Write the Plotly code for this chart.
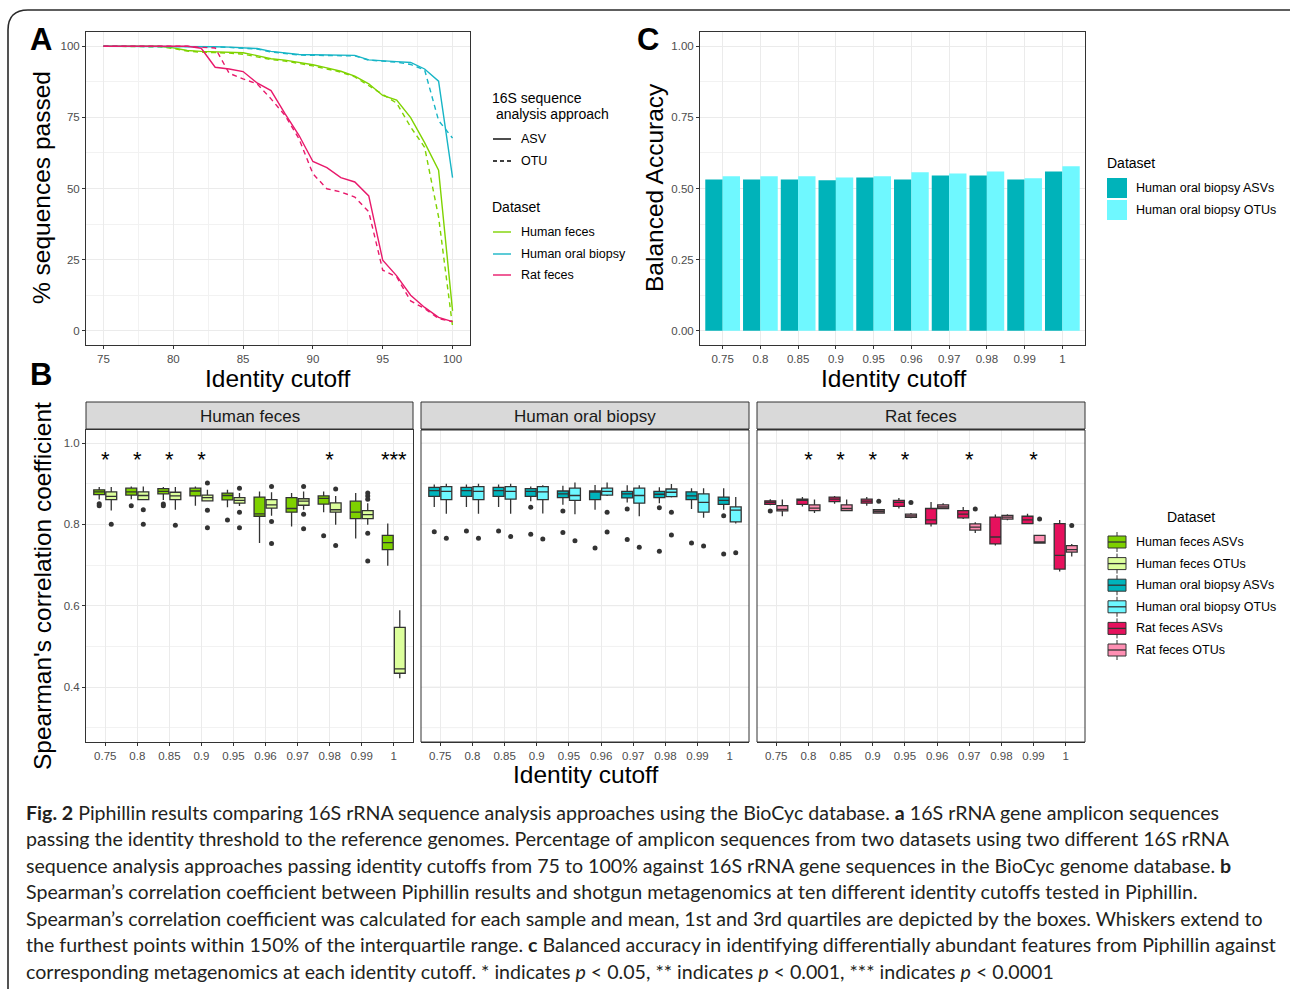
import plotly.graph_objects as go

W, H = 1290, 989


def X(p):
    return p / W


def Y(p):
    return 1 - p / H


# ---------------- Panel A data ----------------
identity_pct = list(range(75, 101))
feces_asv_pct = [100, 100, 100, 100, 100, 99.4, 98.5, 98.2, 98.1, 98.0, 97.7, 96.7, 95.6,
                 95.1, 94.4, 93.5, 92.4, 91.2, 89.5, 86.8, 82.7, 81.1, 74.9, 66.1, 56.4, 7.0]
feces_otu_pct = [100, 100, 100, 100, 99.8, 99.2, 98.3, 97.9, 97.8, 97.6, 97.2, 96.3, 95.3,
                 94.8, 94.0, 93.1, 92.0, 90.9, 89.2, 86.2, 83.2, 80.0, 71.6, 64.5, 40.0, 1.6]
oral_asv_pct = [100, 100, 100, 100, 100, 100, 100, 99.9, 99.8, 99.7, 99.5, 99.2, 98.2,
                97.6, 97.1, 97.0, 96.9, 96.8, 96.8, 95.2, 94.8, 94.6, 94.3, 92.0, 87.7, 53.8]
oral_otu_pct = [100, 100, 100, 100, 100, 100, 100, 99.9, 99.8, 99.6, 99.4, 99.0, 98.0,
                97.4, 96.9, 96.8, 96.7, 96.6, 96.6, 95.1, 94.7, 94.4, 93.6, 91.7, 73.9, 67.7]
rat_asv_pct = [100, 100, 100, 100, 100, 100, 100, 99.3, 92.6, 92.0, 91.1, 87.1, 84.4,
               76.3, 68.7, 59.5, 57.3, 53.8, 52.3, 47.4, 24.8, 19.3, 12.5, 8.2, 4.7, 3.2]
rat_otu_pct = [100, 100, 100, 100, 100, 100, 100, 99.6, 99.4, 90.5, 88.5, 86.8, 81.5,
               75.7, 67.5, 55.2, 49.9, 48.8, 47.0, 41.8, 21.3, 18.9, 10.5, 7.8, 4.3, 3.2]

# ---------------- Panel C data ----------------
cutoff_labels = ["0.75", "0.8", "0.85", "0.9", "0.95", "0.96", "0.97", "0.98", "0.99", "1"]
bal_acc_asv = [0.532, 0.532, 0.532, 0.529, 0.539, 0.532, 0.546, 0.546, 0.532, 0.560]
bal_acc_otu = [0.543, 0.543, 0.543, 0.539, 0.543, 0.557, 0.553, 0.560, 0.536, 0.578]

# ---------------- Panel B data: (lower whisker, q1, median, q3, upper whisker) ----------------
feces_asv_stats = [(0.861, 0.873, 0.880, 0.885, 0.892), (0.862, 0.872, 0.880, 0.889, 0.893),
                   (0.860, 0.875, 0.881, 0.888, 0.892), (0.846, 0.870, 0.882, 0.889, 0.893),
                   (0.842, 0.860, 0.871, 0.877, 0.885), (0.754, 0.820, 0.826, 0.867, 0.881),
                   (0.795, 0.830, 0.839, 0.866, 0.877), (0.830, 0.850, 0.864, 0.870, 0.881),
                   (0.765, 0.814, 0.830, 0.857, 0.877), (0.698, 0.738, 0.755, 0.773, 0.802)]
feces_asv_out = [[0.851, 0.846], [0.846], [0.850, 0.846], [], [0.811], [], [], [0.772], [], []]
feces_otu_stats = [(0.834, 0.861, 0.869, 0.880, 0.892), (0.859, 0.861, 0.871, 0.880, 0.893),
                   (0.836, 0.861, 0.870, 0.879, 0.892), (0.856, 0.858, 0.866, 0.872, 0.885),
                   (0.845, 0.852, 0.859, 0.866, 0.877), (0.821, 0.840, 0.848, 0.861, 0.879),
                   (0.836, 0.847, 0.857, 0.863, 0.881), (0.799, 0.830, 0.836, 0.853, 0.870),
                   (0.799, 0.814, 0.824, 0.834, 0.852), (0.422, 0.434, 0.445, 0.547, 0.589)]
feces_otu_out = [[0.800], [0.836, 0.800], [0.798], [0.902, 0.835, 0.792], [0.889, 0.830, 0.792],
                 [0.893, 0.807, 0.753], [0.893, 0.825, 0.789], [0.887, 0.748],
                 [0.877, 0.870, 0.862, 0.778, 0.710], []]
oral_asv_stats = [(0.843, 0.869, 0.883, 0.891, 0.898), (0.843, 0.869, 0.883, 0.891, 0.898),
                  (0.843, 0.869, 0.883, 0.891, 0.898), (0.857, 0.869, 0.881, 0.888, 0.893),
                  (0.848, 0.866, 0.875, 0.882, 0.895), (0.836, 0.861, 0.880, 0.882, 0.897),
                  (0.854, 0.865, 0.875, 0.881, 0.896), (0.852, 0.866, 0.874, 0.881, 0.891),
                  (0.838, 0.861, 0.870, 0.880, 0.889), (0.836, 0.849, 0.859, 0.867, 0.889)]
oral_asv_out = [[0.782], [0.784], [0.784], [0.842, 0.776], [0.833, 0.780], [0.742],
                [0.838, 0.763], [0.841, 0.734], [0.754], [0.821, 0.727]]
oral_otu_stats = [(0.826, 0.861, 0.881, 0.893, 0.900), (0.826, 0.861, 0.881, 0.893, 0.900),
                  (0.826, 0.862, 0.881, 0.893, 0.900), (0.827, 0.861, 0.880, 0.893, 0.896),
                  (0.825, 0.859, 0.871, 0.889, 0.903), (0.870, 0.872, 0.881, 0.889, 0.903),
                  (0.820, 0.852, 0.871, 0.889, 0.896), (0.866, 0.868, 0.879, 0.887, 0.899),
                  (0.816, 0.830, 0.854, 0.875, 0.889), (0.802, 0.806, 0.835, 0.843, 0.867)]
oral_otu_out = [[0.766], [0.766], [0.770], [0.764], [0.760], [0.830, 0.781], [0.744],
                [0.830, 0.774], [0.747], [0.730]]
rat_asv_stats = [(0.847, 0.849, 0.854, 0.858, 0.862), (0.844, 0.849, 0.859, 0.862, 0.867),
                 (0.851, 0.856, 0.862, 0.867, 0.870), (0.846, 0.852, 0.857, 0.862, 0.867),
                 (0.839, 0.844, 0.854, 0.859, 0.865), (0.795, 0.801, 0.811, 0.839, 0.855),
                 (0.813, 0.816, 0.825, 0.834, 0.843), (0.748, 0.752, 0.769, 0.818, 0.824),
                 (0.800, 0.802, 0.811, 0.820, 0.826), (0.684, 0.690, 0.724, 0.802, 0.811)]
rat_asv_out = [[0.833], [], [], [], [], [], [], [], [], []]
rat_otu_stats = [(0.820, 0.833, 0.837, 0.846, 0.861), (0.828, 0.834, 0.840, 0.848, 0.861),
                 (0.832, 0.834, 0.839, 0.848, 0.861), (0.827, 0.828, 0.832, 0.836, 0.837),
                 (0.815, 0.817, 0.821, 0.825, 0.828), (0.839, 0.839, 0.843, 0.848, 0.852),
                 (0.779, 0.786, 0.793, 0.801, 0.805), (0.810, 0.813, 0.818, 0.822, 0.825),
                 (0.754, 0.754, 0.757, 0.773, 0.773), (0.721, 0.732, 0.738, 0.748, 0.752)]
rat_otu_out = [[], [], [], [0.857], [0.854], [], [0.838], [], [0.813], [0.797]]

feces_sig = ["*", "*", "*", "*", "", "", "", "*", "", "***"]
oral_sig = ["", "", "", "", "", "", "", "", "", ""]
rat_sig = ["", "*", "*", "*", "*", "", "*", "", "*", ""]
sig_y = 0.955

facet_names = ["Human feces", "Human oral biopsy", "Rat feces"]

# ---------------- styles ----------------
FONT = "Liberation Sans, Arial, Helvetica, sans-serif"
C_FECES, C_ORAL, C_RAT = "#7FD300", "#17B5C6", "#E8196B"
BOX_COLORS = {
    "Human feces ASVs": "#7ED100", "Human feces OTUs": "#DCFF9C",
    "Human oral biopsy ASVs": "#00B4BC", "Human oral biopsy OTUs": "#6DF7FF",
    "Rat feces ASVs": "#E6115D", "Rat feces OTUs": "#FF8FB3",
}
BAR_ASV, BAR_OTU = "#00B3BA", "#6FF8FF"
GRID, MINOR = "#EBEBEB", "#F2F2F2"
TICKFONT = dict(family=FONT, size=11.5, color="#4D4D4D")

fig = go.Figure()

# ---------- Panel A lines ----------
for ys, col, dash in [(feces_asv_pct, C_FECES, "solid"), (feces_otu_pct, C_FECES, "dash"),
                      (oral_asv_pct, C_ORAL, "solid"), (oral_otu_pct, C_ORAL, "dash"),
                      (rat_asv_pct, C_RAT, "solid"), (rat_otu_pct, C_RAT, "dash")]:
    fig.add_trace(go.Scatter(x=identity_pct, y=ys, mode="lines",
                             line=dict(color=col, width=1.4, dash="5px,4px" if dash == "dash" else "solid"),
                             xaxis="x", yaxis="y", showlegend=False, hoverinfo="skip"))

# ---------- Panel C bars ----------
fig.add_trace(go.Bar(x=cutoff_labels, y=bal_acc_asv, marker=dict(color=BAR_ASV, line=dict(width=0)),
                     xaxis="x2", yaxis="y2", showlegend=False, offsetgroup="a"))
fig.add_trace(go.Bar(x=cutoff_labels, y=bal_acc_otu, marker=dict(color=BAR_OTU, line=dict(width=0)),
                     xaxis="x2", yaxis="y2", showlegend=False, offsetgroup="b"))

# ---------- Panel B boxes ----------
dodge = 0.1875
facets = [
    ("x3", "y3", feces_asv_stats, feces_asv_out, feces_otu_stats, feces_otu_out,
     "Human feces ASVs", "Human feces OTUs", feces_sig),
    ("x4", "y3", oral_asv_stats, oral_asv_out, oral_otu_stats, oral_otu_out,
     "Human oral biopsy ASVs", "Human oral biopsy OTUs", oral_sig),
    ("x5", "y3", rat_asv_stats, rat_asv_out, rat_otu_stats, rat_otu_out,
     "Rat feces ASVs", "Rat feces OTUs", rat_sig),
]
pos = list(range(1, len(cutoff_labels) + 1))
for xa, ya, s_asv, o_asv, s_otu, o_otu, n_asv, n_otu, sig in facets:
    for stats, outs, name, off in [(s_asv, o_asv, n_asv, -dodge), (s_otu, o_otu, n_otu, dodge)]:
        xp = [p + off for p in pos]
        fig.add_trace(go.Box(
            x=xp, lowerfence=[s[0] for s in stats], q1=[s[1] for s in stats],
            median=[s[2] for s in stats], q3=[s[3] for s in stats],
            upperfence=[s[4] for s in stats], width=0.34, whiskerwidth=0,
            fillcolor=BOX_COLORS[name], line=dict(color="#333333", width=1.3),
            boxpoints=False, xaxis=xa, yaxis=ya, showlegend=False, hoverinfo="skip"))
        ox, oy = [], []
        for p, vals in zip(xp, outs):
            for v in vals:
                ox.append(p)
                oy.append(v)
        if ox:
            fig.add_trace(go.Scatter(x=ox, y=oy, mode="markers",
                                     marker=dict(color="#333333", size=5),
                                     xaxis=xa, yaxis=ya, showlegend=False, hoverinfo="skip"))
    fig.add_trace(go.Scatter(x=pos, y=[sig_y] * len(pos), mode="text", text=sig,
                             textfont=dict(family=FONT, size=22, color="black"),
                             textposition="middle center",
                             xaxis=xa, yaxis=ya, showlegend=False, hoverinfo="skip"))


def frame_axis(domain, **kw):
    d = dict(domain=domain, showline=True, linecolor="#333333", linewidth=1, mirror=True,
             ticks="outside", ticklen=3, tickcolor="#333333", tickwidth=1,
             tickfont=TICKFONT, showgrid=True, gridcolor=GRID, gridwidth=1, zeroline=False)
    d.update(kw)
    return d


pa_x = [X(86), X(470)]
pa_y = [Y(345), Y(32)]
pc_x = [X(700), X(1085)]
pb_y = [Y(742), Y(430)]
fx = [(86, 413), (421, 749), (757, 1085)]

layout = dict(
    width=W, height=H, margin=dict(l=0, r=0, t=0, b=0),
    paper_bgcolor="white", plot_bgcolor="white",
    bargap=0.08, bargroupgap=0, barmode="group", boxmode="overlay",
    xaxis=frame_axis(pa_x, range=[73.75, 101.25], tickvals=[75, 80, 85, 90, 95, 100],
                     minor=dict(dtick=2.5, tick0=72.5, showgrid=True, gridcolor=MINOR, gridwidth=0.8),
                     anchor="y"),
    yaxis=frame_axis(pa_y, range=[-5, 105], tickvals=[0, 25, 50, 75, 100],
                     minor=dict(dtick=12.5, tick0=0, showgrid=True, gridcolor=MINOR, gridwidth=0.8),
                     anchor="x"),
    xaxis2=frame_axis(pc_x, type="category", range=[-0.6, 9.6], anchor="y2"),
    yaxis2=frame_axis(pa_y, range=[-0.05, 1.05], tickvals=[0, 0.25, 0.5, 0.75, 1.0],
                      ticktext=["0.00", "0.25", "0.50", "0.75", "1.00"],
                      minor=dict(dtick=0.125, tick0=0, showgrid=True, gridcolor=MINOR, gridwidth=0.8),
                      anchor="x2"),
    yaxis3=frame_axis(pb_y, range=[0.265, 1.032], tickvals=[0.4, 0.6, 0.8, 1.0],
                      ticktext=["0.4", "0.6", "0.8", "1.0"],
                      minor=dict(dtick=0.1, tick0=0.3, showgrid=True, gridcolor=MINOR, gridwidth=0.8),
                      anchor="x3"),
    showlegend=False,
)
for i, (a, b) in enumerate(fx):
    layout["xaxis%d" % (i + 3)] = frame_axis([X(a), X(b)], range=[0.4, 10.6], tickvals=pos,
                                             ticktext=cutoff_labels, anchor="y3")
fig.update_layout(**layout)

shapes = []
annotations = []


def txt(text, x, y, size, xanchor="center", yanchor="middle", angle=0, color="black", family=FONT):
    annotations.append(dict(text=text, x=X(x), y=Y(y), xref="paper", yref="paper",
                            xanchor=xanchor, yanchor=yanchor, showarrow=False, textangle=angle,
                            font=dict(family=family, size=size, color=color), borderpad=0))


# facet frames for 2 & 3 (y axis only drawn on first facet)
for a, b in fx[1:]:
    shapes.append(dict(type="rect", xref="paper", yref="paper", x0=X(a), x1=X(b), y0=Y(742), y1=Y(430),
                       line=dict(color="#333333", width=1), layer="above"))
for a, b in fx[1:]:
    for v, major in [(0.3, False), (0.4, True), (0.5, False), (0.6, True), (0.7, False), (0.8, True),
                     (0.9, False), (1.0, True)]:
        yy = 742 - (v - 0.265) / (1.032 - 0.265) * (742 - 430)
        shapes.append(dict(type="line", xref="paper", yref="paper", x0=X(a), x1=X(b), y0=Y(yy), y1=Y(yy),
                           line=dict(color=GRID if major else MINOR, width=1 if major else 0.8), layer="below"))

# strips
for (a, b), name in zip(fx, facet_names):
    shapes.append(dict(type="rect", xref="paper", yref="paper", x0=X(a), x1=X(b), y0=Y(429), y1=Y(402),
                       fillcolor="#D9D9D9", line=dict(color="#333333", width=1)))
    txt(name, (a + b) / 2, 416, 17, color="#1A1A1A")

# outer border
shapes.append(dict(type="path", xref="paper", yref="paper",
                   path="M %f %f L %f %f Q %f %f %f %f L %f %f" % (
                       X(8), Y(989), X(8), Y(30), X(8), Y(10), X(28), Y(10), X(1290), Y(10)),
                   line=dict(color="#2A2A2A", width=1.6)))

# panel letters
txt("<b>A</b>", 41, 40, 31)
txt("<b>B</b>", 41, 375, 31)
txt("<b>C</b>", 648, 40, 31)

# axis titles
txt("% sequences passed", 42, 188, 24.5, angle=-90)
txt("Identity cutoff", 277, 378, 24.5)
txt("Balanced Accuracy", 655, 188, 24.5, angle=-90)
txt("Identity cutoff", 893, 378, 24.5)
txt("Spearman's correlation coefficient", 42, 586, 24.5, angle=-90)
txt("Identity cutoff", 585, 774, 24.5)

# Legend A
txt("16S sequence", 491, 98, 14, xanchor="left")
txt(" analysis approach", 491, 114, 14, xanchor="left")
for yy, lab, dash in [(139, "ASV", "solid"), (161, "OTU", "dash")]:
    shapes.append(dict(type="line", xref="paper", yref="paper", x0=X(493), x1=X(511), y0=Y(yy), y1=Y(yy),
                       line=dict(color="black", width=1.4, dash="4px,3px" if dash == "dash" else "solid")))
    txt(lab, 520, yy, 12.5, xanchor="left")
txt("Dataset", 491, 207, 14, xanchor="left")
for yy, lab, col in [(232, "Human feces", C_FECES), (254, "Human oral biopsy", C_ORAL),
                     (275, "Rat feces", C_RAT)]:
    shapes.append(dict(type="line", xref="paper", yref="paper", x0=X(493), x1=X(511), y0=Y(yy), y1=Y(yy),
                       line=dict(color=col, width=1.4)))
    txt(lab, 520, yy, 12.5, xanchor="left")

# Legend C
txt("Dataset", 1106, 163, 14, xanchor="left")
for yy, lab, col in [(188, "Human oral biopsy ASVs", BAR_ASV), (210, "Human oral biopsy OTUs", BAR_OTU)]:
    shapes.append(dict(type="rect", xref="paper", yref="paper", x0=X(1107), x1=X(1127), y0=Y(yy + 10),
                       y1=Y(yy - 10), fillcolor=col, line=dict(width=0)))
    txt(lab, 1135, yy, 12.5, xanchor="left")

# Legend B
txt("Dataset", 1191, 517, 14)
for k, lab in enumerate(["Human feces ASVs", "Human feces OTUs", "Human oral biopsy ASVs",
                         "Human oral biopsy OTUs", "Rat feces ASVs", "Rat feces OTUs"]):
    yy = 542 + k * 21.6
    shapes.append(dict(type="line", xref="paper", yref="paper", x0=X(1117), x1=X(1117), y0=Y(yy - 10),
                       y1=Y(yy + 10), line=dict(color="#333333", width=1)))
    shapes.append(dict(type="rect", xref="paper", yref="paper", x0=X(1108), x1=X(1126), y0=Y(yy + 6),
                       y1=Y(yy - 6), fillcolor=BOX_COLORS[lab], line=dict(color="#333333", width=1)))
    shapes.append(dict(type="line", xref="paper", yref="paper", x0=X(1108), x1=X(1126), y0=Y(yy),
                       y1=Y(yy), line=dict(color="#333333", width=1.3)))
    txt(lab, 1135, yy, 12.5, xanchor="left")

# caption
CAP_FONT = "Lato, Open Sans, sans-serif"
caption_lines = [
    "<b>Fig. 2</b> Piphillin results comparing 16S rRNA sequence analysis approaches using the BioCyc database. <b>a</b> 16S rRNA gene amplicon sequences",
    "passing the identity threshold to the reference genomes. Percentage of amplicon sequences from two datasets using two different 16S rRNA",
    "sequence analysis approaches passing identity cutoffs from 75 to 100% against 16S rRNA gene sequences in the BioCyc genome database. <b>b</b>",
    "Spearman’s correlation coefficient between Piphillin results and shotgun metagenomics at ten different identity cutoffs tested in Piphillin.",
    "Spearman’s correlation coefficient was calculated for each sample and mean, 1st and 3rd quartiles are depicted by the boxes. Whiskers extend to",
    "the furthest points within 150% of the interquartile range. <b>c</b> Balanced accuracy in identifying differentially abundant features from Piphillin against",
    "corresponding metagenomics at each identity cutoff. * indicates <i>p</i> &lt; 0.05, ** indicates <i>p</i> &lt; 0.001, *** indicates <i>p</i> &lt; 0.0001",
]
for k, line in enumerate(caption_lines):
    txt(line, 25, 812 + k * 26.5, 19.6, xanchor="left", color="#231F20", family=CAP_FONT)

fig.update_layout(shapes=shapes, annotations=annotations)

fig.write_html("out.html", config={"displayModeBar": False},
               post_script="document.body.style.margin='0';document.body.style.overflow='hidden';")
